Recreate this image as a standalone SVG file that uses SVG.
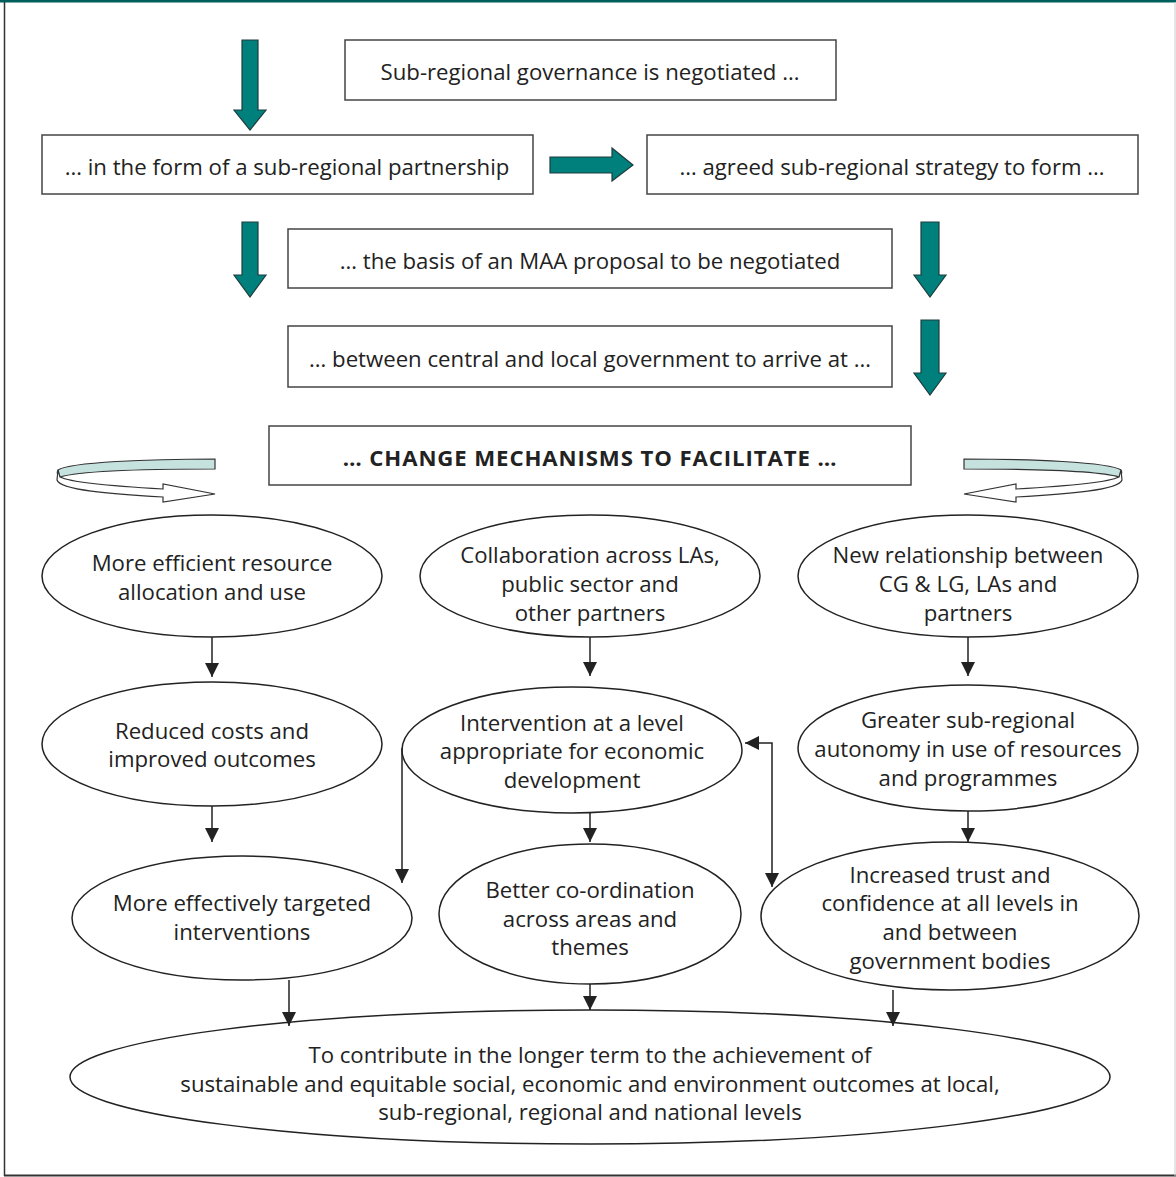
<svg xmlns="http://www.w3.org/2000/svg" width="1176" height="1177" viewBox="0 0 1176 1177">
<style>
.box{fill:#fff;stroke:#444;stroke-width:1.5}
.ell{fill:#fff;stroke:#222;stroke-width:1.5}
.t{font-family:"Open Sans","Noto Sans","DejaVu Sans",sans-serif;font-size:22.2px;fill:#222;text-anchor:middle;dominant-baseline:central}
.b{font-weight:bold;letter-spacing:0.9px}
.teal{fill:#00807c;stroke:#1e3c3c;stroke-width:1.2}
.con{fill:none;stroke:#222;stroke-width:1.5}
</style>
<defs>
<marker id="ah" markerUnits="userSpaceOnUse" markerWidth="14" markerHeight="14" viewBox="0 0 14 14" refX="14" refY="7" orient="auto">
<path d="M0,0 L14,7 L0,14 Z" fill="#222"/>
</marker>
<marker id="ahs" markerUnits="userSpaceOnUse" markerWidth="14" markerHeight="14" viewBox="0 0 14 14" refX="0" refY="7" orient="auto">
<path d="M14,0 L0,7 L14,14 Z" fill="#222"/>
</marker>
</defs>
<rect x="0" y="0" width="1176" height="1177" fill="#fff"/>
<g id="frame">
<line x1="0" y1="1" x2="1176" y2="1" stroke="#005f5c" stroke-width="3"/>
<line x1="4.5" y1="2" x2="4.5" y2="1176" stroke="#333" stroke-width="1.5"/>
<line x1="4" y1="1175.5" x2="1176" y2="1175.5" stroke="#333" stroke-width="2"/>
<line x1="1175" y1="2" x2="1175" y2="1176" stroke="#ccc" stroke-width="1"/>
</g>
<g id="n1"><rect class="box" x="345" y="40" width="491" height="60"/><text class="t" x="590" y="71">Sub-regional governance is negotiated …</text></g>
<g id="n2"><rect class="box" x="42" y="135" width="491" height="59"/><text class="t" x="287" y="166">… in the form of a sub-regional partnership</text></g>
<g id="n3"><rect class="box" x="647" y="135" width="491" height="59"/><text class="t" x="892" y="166">… agreed sub-regional strategy to form …</text></g>
<g id="n4"><rect class="box" x="288" y="229" width="604" height="59"/><text class="t" x="590" y="260">… the basis of an MAA proposal to be negotiated</text></g>
<g id="n5"><rect class="box" x="288" y="326" width="604" height="61"/><text class="t" x="590" y="358">… between central and local government to arrive at …</text></g>
<g id="n6"><rect class="box" x="269" y="426" width="642" height="59"/><text class="t b" x="590" y="457">… CHANGE MECHANISMS TO FACILITATE …</text></g>
<g id="e1"><ellipse class="ell" cx="212" cy="576" rx="170" ry="61"/><text class="t" x="212" y="562">More efficient resource</text><text class="t" x="212" y="591">allocation and use</text></g>
<g id="e2"><ellipse class="ell" cx="590" cy="576" rx="170" ry="61"/><text class="t" x="590" y="554">Collaboration across LAs,</text><text class="t" x="590" y="583">public sector and</text><text class="t" x="590" y="612">other partners</text></g>
<g id="e3"><ellipse class="ell" cx="968" cy="576" rx="170" ry="61"/><text class="t" x="968" y="554">New relationship between</text><text class="t" x="968" y="583">CG &amp; LG, LAs and</text><text class="t" x="968" y="612">partners</text></g>
<g id="e4"><ellipse class="ell" cx="212" cy="744" rx="170" ry="62"/><text class="t" x="212" y="730">Reduced costs and</text><text class="t" x="212" y="758">improved outcomes</text></g>
<g id="e5"><ellipse class="ell" cx="572" cy="750" rx="170" ry="63"/><text class="t" x="572" y="722">Intervention at a level</text><text class="t" x="572" y="750">appropriate for economic</text><text class="t" x="572" y="779">development</text></g>
<g id="e6"><ellipse class="ell" cx="968" cy="748" rx="170" ry="63"/><text class="t" x="968" y="719">Greater sub-regional</text><text class="t" x="968" y="748">autonomy in use of resources</text><text class="t" x="968" y="777">and programmes</text></g>
<g id="e7"><ellipse class="ell" cx="242" cy="918" rx="170" ry="62"/><text class="t" x="242" y="902">More effectively targeted</text><text class="t" x="242" y="931">interventions</text></g>
<g id="e8"><ellipse class="ell" cx="590" cy="914" rx="151" ry="70"/><text class="t" x="590" y="889">Better co-ordination</text><text class="t" x="590" y="918">across areas and</text><text class="t" x="590" y="946">themes</text></g>
<g id="e9"><ellipse class="ell" cx="950" cy="916" rx="189" ry="74"/><text class="t" x="950" y="874">Increased trust and</text><text class="t" x="950" y="902">confidence at all levels in</text><text class="t" x="950" y="931">and between</text><text class="t" x="950" y="960">government bodies</text></g>
<g id="e10"><ellipse class="ell" cx="590" cy="1077" rx="520" ry="67"/><text class="t" x="590" y="1054">To contribute in the longer term to the achievement of</text><text class="t" x="590" y="1083">sustainable and equitable social, economic and environment outcomes at local,</text><text class="t" x="590" y="1111">sub-regional, regional and national levels</text></g>
<g id="connectors">
<path class="teal" d="M242,40 H258 V110 H266 L250,130 L234,110 H242 Z"/>
<path class="teal" d="M550,157 H612 V148 L633,165 L612,181 V173 H550 Z"/>
<path class="teal" d="M242,222 H258 V275 H266 L250,297 L234,275 H242 Z"/>
<path class="teal" d="M921,222 H939 V275 H946 L930,297 L914,275 H921 Z"/>
<path class="teal" d="M921,320 H939 V373 H946 L930,395 L914,373 H921 Z"/>
<g id="cyc-left">
<path d="M215,459 L215,469 C150,469 80,471 60,477 C57,475 57,472 58,470 C70,462 150,459 215,459 Z" fill="#c6e2df" stroke="#333" stroke-width="1.2"/>
<path d="M58,470 L57,480 C60,490 110,494 163,497 L163,502 L215,494 L163,484 L163,489 C110,486 70,482 60,477 Z" fill="#fff" stroke="#333" stroke-width="1.2"/>
</g>
<g id="cyc-right" transform="translate(1179,0) scale(-1,1)">
<path d="M215,459 L215,469 C150,469 80,471 60,477 C57,475 57,472 58,470 C70,462 150,459 215,459 Z" fill="#c6e2df" stroke="#333" stroke-width="1.2"/>
<path d="M58,470 L57,480 C60,490 110,494 163,497 L163,502 L215,494 L163,484 L163,489 C110,486 70,482 60,477 Z" fill="#fff" stroke="#333" stroke-width="1.2"/>
</g>
<line class="con" x1="212" y1="637" x2="212" y2="677" marker-end="url(#ah)"/>
<line class="con" x1="590" y1="637" x2="590" y2="676" marker-end="url(#ah)"/>
<line class="con" x1="968" y1="637" x2="968" y2="676" marker-end="url(#ah)"/>
<line class="con" x1="212" y1="806" x2="212" y2="842" marker-end="url(#ah)"/>
<line class="con" x1="590" y1="813" x2="590" y2="842" marker-end="url(#ah)"/>
<line class="con" x1="968" y1="811" x2="968" y2="842" marker-end="url(#ah)"/>
<path class="con" d="M402,748 V883" marker-end="url(#ah)"/>
<path class="con" d="M745,743 H772 V887" marker-start="url(#ahs)" marker-end="url(#ah)"/>
<line class="con" x1="289" y1="980" x2="289" y2="1026" marker-end="url(#ah)"/>
<line class="con" x1="590" y1="984" x2="590" y2="1010" marker-end="url(#ah)"/>
<line class="con" x1="893" y1="990" x2="893" y2="1026" marker-end="url(#ah)"/>
</g>
</svg>
